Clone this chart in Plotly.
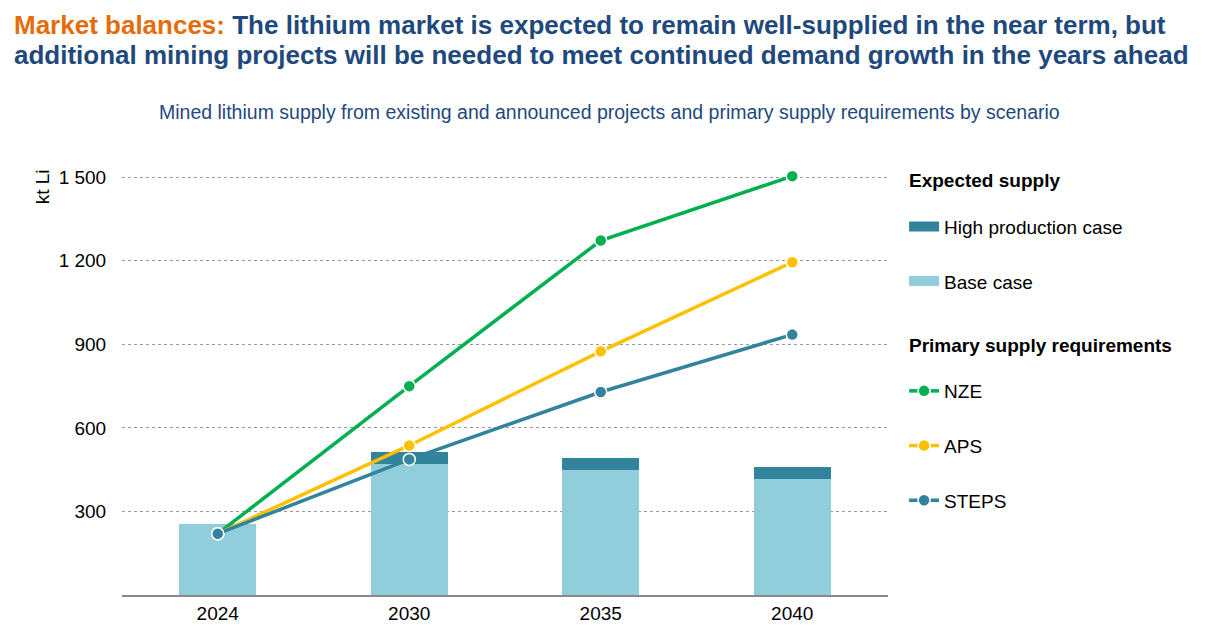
import plotly.graph_objects as go

years = ["2024", "2030", "2035", "2040"]
base_case = [256, 469, 448, 416]
high_production = [0, 46, 45, 45]
nze = [220, 750, 1273, 1504]
aps = [220, 537, 875, 1195]
steps = [220, 487, 729, 935]

light_blue = "#92CDDC"
teal = "#31849B"
green = "#00B050"
yellow = "#FFC000"
title_blue = "#1F497D"
FONT = "Liberation Sans, Arial, sans-serif"

fig = go.Figure()

# stacked bars (legend entries drawn with wide line proxies below)
fig.add_trace(go.Bar(x=years, y=base_case, name="Base case", showlegend=False,
                     marker=dict(color=light_blue, line=dict(width=0))))
fig.add_trace(go.Bar(x=years, y=high_production, name="High production case", showlegend=False,
                     marker=dict(color=teal, line=dict(width=0))))

# legend proxies for the bars: wide rectangles like the reference
for i, (name, col) in enumerate([("High production case", teal), ("Base case", light_blue)]):
    fig.add_trace(go.Scatter(
        x=[None], y=[None], name=name, mode="lines",
        line=dict(color=col, width=10),
        legend="legend", legendgroup=name, legendrank=i + 1,
    ))

line_series = [("NZE", nze, green), ("APS", aps, yellow), ("STEPS", steps, teal)]
for i, (name, vals, col) in enumerate(line_series):
    fig.add_trace(go.Scatter(
        x=years, y=vals, name=name, mode="lines+markers",
        line=dict(color=col, width=3.5),
        marker=dict(color=col, size=12, line=dict(color="white", width=1.5)),
        legend="legend2", legendgroup=name, legendrank=3 + i,
    ))

legend_style = dict(font=dict(size=19), tracegroupgap=27, itemwidth=30,
                    traceorder="grouped", bgcolor="rgba(0,0,0,0)")

fig.update_layout(
    width=1198, height=628,
    margin=dict(l=114, r=318, t=147, b=37),
    plot_bgcolor="white", paper_bgcolor="white",
    font=dict(family=FONT, size=19, color="black"),
    barmode="stack", bargap=0.6,
    separators=". ",
    legend=dict(x=1.021, xanchor="left", y=0.8806, yanchor="top", **legend_style),
    legend2=dict(x=1.021, xanchor="left", y=0.5068, yanchor="top", **legend_style),
    xaxis=dict(
        showline=True, linecolor="#888888", linewidth=1.5,
        ticks="", tickfont=dict(size=19),
    ),
    yaxis=dict(
        range=[0, 1580], tickvals=[300, 600, 900, 1200, 1500],
        tickformat=",d", separatethousands=True,
        showgrid=True, gridcolor="#9a9a9a", griddash="dot", gridwidth=1,
        zeroline=False, showline=False,
        ticks="outside", ticklen=11, tickcolor="white",
        tickfont=dict(size=19),
    ),
    annotations=[
        dict(text="<b><span style='color:#E46C0A'>Market balances:</span> The lithium market is expected to remain well-supplied in the near term, but</b>",
             xref="paper", yref="paper", x=-0.1436, y=1.295, xanchor="left", yanchor="middle",
             showarrow=False, font=dict(size=26, color=title_blue)),
        dict(text="<b>additional mining projects will be needed to meet continued demand growth in the years ahead</b>",
             xref="paper", yref="paper", x=-0.1436, y=1.2275, xanchor="left", yanchor="middle",
             showarrow=False, font=dict(size=26, color=title_blue)),
        dict(text="Mined lithium supply from existing and announced projects and primary supply requirements by scenario",
             xref="paper", yref="paper", x=0.636, y=1.097, xanchor="center", yanchor="middle",
             showarrow=False, font=dict(size=19.5, color=title_blue)),
        dict(text="kt Li", xref="paper", yref="paper", x=-0.1044, y=0.971, textangle=-90,
             xanchor="center", yanchor="top", showarrow=False, font=dict(size=19)),
        dict(text="<b>Expected supply</b>", xref="paper", yref="paper", x=1.0248, y=0.9414,
             xanchor="left", yanchor="middle", showarrow=False, font=dict(size=19)),
        dict(text="<b>Primary supply requirements</b>", xref="paper", yref="paper", x=1.0248, y=0.5676,
             xanchor="left", yanchor="middle", showarrow=False, font=dict(size=19)),
    ],
)

fig.write_html("out.html")
